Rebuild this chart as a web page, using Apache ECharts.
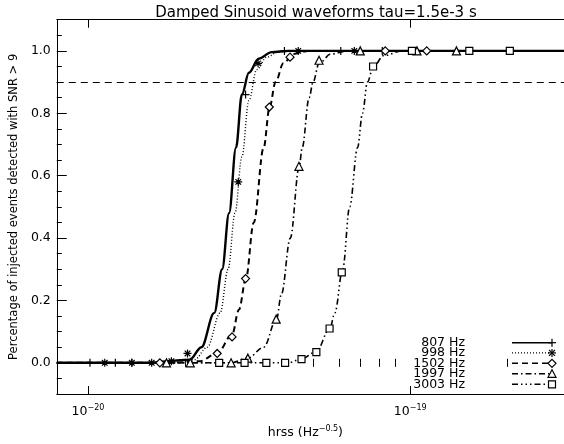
<!DOCTYPE html>
<html><head><meta charset="utf-8">
<script src="https://cdn.jsdelivr.net/npm/echarts@6/dist/echarts.min.js"></script>
<style>html,body{margin:0;padding:0;background:#fff}#c{width:564px;height:444px}</style>
</head><body><div id="c"></div><script>
// ---- axis ticks ----
const xMin = 8e-21, xMax = 3e-19;
const xMajorTicks = [1e-20, 1e-19];
const xMinorTicks = [8e-21, 9e-21, 2e-20, 3e-20, 4e-20, 5e-20, 6e-20, 7e-20, 8e-20, 9e-20, 2e-19, 3e-19];
const yMin = -0.1, yMax = 1.1;
const yMajorTicks = [0, 0.2, 0.4, 0.6, 0.8, 1.0];
const yMinorTicks = [-0.05, 0.05, 0.1, 0.15, 0.25, 0.3, 0.35, 0.45, 0.5, 0.55, 0.65, 0.7, 0.75, 0.85, 0.9, 0.95, 1.05];
const thresholdY = 0.9;
const frequencies = ['807 Hz', '998 Hz', '1502 Hz', '1997 Hz', '3003 Hz'];

// ---- fitted curves (hrss in units of 1e-20) ----
const fit807X  = [0.8, 1.5, 2.07, 2.248, 2.465, 2.608, 2.740, 2.879, 3.003, 3.156, 3.387, 3.713, 4.186, 30];
const fit807Y  = [0, 0, 0.01, 0.05, 0.16, 0.30, 0.48, 0.69, 0.86, 0.93, 0.975, 0.996, 1.0, 1.0];
const fit998X  = [0.8, 1.5, 2.140, 2.346, 2.571, 2.721, 2.859, 3.003, 3.156, 3.339, 3.584, 3.900, 4.492, 30];
const fit998Y  = [0, 0, 0.01, 0.05, 0.16, 0.30, 0.48, 0.66, 0.84, 0.94, 0.98, 0.997, 1.0, 1.0];
const fit1502X = [0.8, 1.8, 2.217, 2.517, 2.799, 2.940, 3.090, 3.269, 3.509, 3.661, 3.819, 4.040, 4.336, 4.821, 30];
const fit1502Y = [0, 0, 0.005, 0.03, 0.09, 0.17, 0.27, 0.45, 0.69, 0.82, 0.90, 0.96, 0.99, 1.0, 1.0];
const fit1997X = [0.8, 2.780, 3.133, 3.509, 3.846, 3.983, 4.245, 4.524, 4.621, 4.855, 4.995, 5.211, 5.671, 6.394, 30];
const fit1997Y = [0, 0, 0.015, 0.05, 0.14, 0.22, 0.40, 0.63, 0.69, 0.85, 0.90, 0.96, 0.99, 1.0, 1.0];
const fit3003X = [0.8, 4.186, 4.589, 5.102, 5.631, 5.834, 6.172, 6.486, 6.863, 7.109, 7.365, 7.682, 8.287, 9.430, 30];
const fit3003Y = [0, 0, 0.012, 0.035, 0.11, 0.16, 0.30, 0.50, 0.69, 0.80, 0.90, 0.95, 0.985, 1.0, 1.0];

// ---- measured points (hrss in units of 1e-20) ----
const pts807X  = [1.014, 1.216, 1.368, 3.083, 4.069, 6.086, 8.188];
const pts807Y  = [0, 0, 0, 0.86, 1, 1, 1];
const pts998X  = [1.127, 1.368, 1.576, 1.815, 2.036, 2.926, 3.370, 4.492, 6.705];
const pts998Y  = [0, 0, 0, 0.005, 0.03, 0.58, 0.96, 1, 1];
const pts1502X = [1.671, 2.517, 2.799, 3.083, 3.653, 4.236, 8.364, 11.25];
const pts1502Y = [0, 0.03, 0.083, 0.27, 0.82, 0.98, 1, 1];
const pts1997X = [1.752, 2.076, 2.780, 3.133, 3.837, 4.514, 5.211, 6.995, 10.49, 13.91];
const pts1997Y = [0, 0, 0, 0.015, 0.14, 0.63, 0.97, 1, 1, 1];
const pts3003X = [2.553, 3.061, 3.576, 4.089, 4.598, 5.112, 5.619, 6.13, 7.667, 10.12, 15.25, 20.37];
const pts3003Y = [0, 0, 0, 0, 0.012, 0.034, 0.11, 0.29, 0.95, 1, 1, 1];

const UNIT = 1e-20;
const pair = (xs, ys) => xs.map((x, i) => [x * UNIT, ys[i]]);

const FONT = 'DejaVu Sans';
const K = '#000';
const plusPath = 'path://M5,0L5,10M0,5L10,5';
const starPath = 'path://M5,0L5,10M0,5L10,5M1.5,1.5L8.5,8.5M1.5,8.5L8.5,1.5';

const styles = [
  {type: 'solid', width: 2.4, sym: plusPath, size: 8, fill: 'none'},
  {type: [1, 2], width: 1.4, sym: starPath, size: 8, fill: 'none'},
  {type: [6, 4], width: 2, sym: 'diamond', size: 8, fill: '#fff'},
  {type: [6, 3, 1.5, 3], width: 1.6, sym: 'triangle', size: 8, fill: '#fff'},
  {type: [6, 3, 1.5, 3, 1.5, 3, 1.5, 3], width: 1.6, sym: 'rect', size: 7, fill: '#fff'}
];
const fits = [[fit807X, fit807Y], [fit998X, fit998Y], [fit1502X, fit1502Y], [fit1997X, fit1997Y], [fit3003X, fit3003Y]];
const pts = [[pts807X, pts807Y], [pts998X, pts998Y], [pts1502X, pts1502Y], [pts1997X, pts1997Y], [pts3003X, pts3003Y]];

const series = [];
fits.forEach((f, i) => {
  const s = styles[i];
  series.push({
    type: 'line', name: frequencies[i], data: pair(f[0], f[1]), smooth: 0.35, smoothMonotone: 'x',
    showSymbol: false, symbol: 'none', lineStyle: {color: K, width: s.width, type: s.type}, z: 3,
    markLine: i === 0 ? {silent: true, symbol: 'none', label: {show: false},
      lineStyle: {color: K, type: [7, 5], width: 1.2}, data: [{yAxis: thresholdY}]} : undefined
  });
});
pts.forEach((p, i) => {
  const s = styles[i];
  series.push({
    type: 'scatter', name: frequencies[i] + ' pts', data: pair(p[0], p[1]), symbol: s.sym, symbolSize: s.size,
    itemStyle: {color: s.fill, borderColor: K, borderWidth: 1.2, opacity: 1}, z: 5
  });
});

const supRich = {
  b: {fontSize: 12.5, fontFamily: FONT, color: K},
  s: {fontSize: 8, fontFamily: FONT, color: K, padding: [0, 0, 7, 0]}
};
const baseX = {
  type: 'log', logBase: 10, min: xMin, max: xMax, gridIndex: 0,
  splitLine: {show: false}, axisLabel: {show: false}, axisTick: {show: false}, axisLine: {show: false}
};
const baseY = {
  type: 'value', min: yMin, max: yMax, gridIndex: 0,
  splitLine: {show: false}, axisLabel: {show: false}, axisTick: {show: false}, axisLine: {show: false}
};
const xAxis = [
  Object.assign({}, baseX, {
    position: 'bottom',
    axisLine: {show: true, onZero: false, lineStyle: {color: K, width: 1}},
    axisTick: {show: true, inside: true, length: 8, lineStyle: {color: K}, customValues: xMajorTicks},
    axisLabel: {show: true, margin: 10, customValues: xMajorTicks, rich: supRich,
      formatter: v => '{b|10}{s|−' + Math.round(-Math.log10(v)) + '}'},
    name: '{b|hrss (Hz}{s|−0.5}{b|)}', nameLocation: 'middle', nameGap: 31,
    nameTextStyle: {rich: supRich, padding: [0, 10, 0, 0]}
  }),
  Object.assign({}, baseX, {position: 'bottom',
    axisTick: {show: true, inside: true, length: 4, lineStyle: {color: K}, customValues: xMinorTicks}}),
  Object.assign({}, baseX, {position: 'top',
    axisLine: {show: true, onZero: false, lineStyle: {color: K, width: 1}},
    axisTick: {show: true, inside: true, length: 8, lineStyle: {color: K}, customValues: xMajorTicks}}),
  Object.assign({}, baseX, {position: 'top',
    axisTick: {show: true, inside: true, length: 4, lineStyle: {color: K}, customValues: xMinorTicks}})
];
const yAxis = [
  Object.assign({}, baseY, {
    position: 'left',
    axisLine: {show: true, onZero: false, lineStyle: {color: K, width: 1}},
    axisTick: {show: true, inside: true, length: 10, lineStyle: {color: K}, customValues: yMajorTicks},
    axisLabel: {show: true, margin: 6, customValues: yMajorTicks, fontSize: 12.5, fontFamily: FONT, color: K,
      formatter: v => v.toFixed(1)},
    name: 'Percentage of injected events detected with SNR > 9', nameLocation: 'middle', nameGap: 36,
    nameRotate: 90, nameTextStyle: {fontSize: 11.5, fontFamily: FONT, color: K}
  }),
  Object.assign({}, baseY, {position: 'left',
    axisTick: {show: true, inside: true, length: 5, lineStyle: {color: K}, customValues: yMinorTicks}})
];

// ---- legend (drawn as graphic) ----
const legendGraphic = [];
const rowY = [342.7, 352.9, 363.3, 373.8, 384.3];
const lx0 = 512, lx1 = 552, tx = 465;
frequencies.forEach((f, i) => {
  const y = rowY[i];
  legendGraphic.push({type: 'text', x: tx, y: y, style: {text: f, align: 'right', verticalAlign: 'middle',
    font: '12.5px "' + FONT + '"', fill: K}});
  legendGraphic.push({type: 'line', shape: {x1: lx0, y1: y, x2: lx1, y2: y},
    style: {stroke: K, lineWidth: Math.min(styles[i].width, 1.5), lineDash: styles[i].type === 'solid' ? null : styles[i].type}});
  const cx = lx1, cy = y, st = {stroke: K, lineWidth: 1.2, fill: '#fff'};
  if (i === 0) {
    legendGraphic.push({type: 'line', shape: {x1: cx, y1: cy - 4, x2: cx, y2: cy + 4}, style: st});
    legendGraphic.push({type: 'line', shape: {x1: cx - 4, y1: cy, x2: cx + 4, y2: cy}, style: st});
  } else if (i === 1) {
    [[0, 4], [4, 0], [3, 3], [3, -3]].forEach(d => legendGraphic.push({type: 'line',
      shape: {x1: cx - d[0], y1: cy - d[1], x2: cx + d[0], y2: cy + d[1]}, style: st}));
  } else if (i === 2) {
    legendGraphic.push({type: 'polygon', shape: {points: [[cx, cy - 4], [cx + 4, cy], [cx, cy + 4], [cx - 4, cy]]}, style: st});
  } else if (i === 3) {
    legendGraphic.push({type: 'polygon', shape: {points: [[cx, cy - 4], [cx + 4, cy + 3.5], [cx - 4, cy + 3.5]]}, style: st});
  } else {
    legendGraphic.push({type: 'rect', shape: {x: cx - 3.5, y: cy - 3.5, width: 7, height: 7}, style: st});
  }
});

const chart = echarts.init(document.getElementById('c'), null, {renderer: 'canvas'});
chart.setOption({
  animation: false,
  backgroundColor: '#fff',
  title: {text: 'Damped Sinusoid waveforms tau=1.5e-3 s', left: 311, textAlign: 'center', top: 1,
    textStyle: {fontSize: 15, fontWeight: 'normal', fontFamily: FONT, color: K}},
  grid: {left: 55.7, top: 19.7, width: 513.2, height: 384, containLabel: false},
  xAxis: xAxis,
  yAxis: yAxis,
  series: series,
  graphic: legendGraphic
});
</script></body></html>
